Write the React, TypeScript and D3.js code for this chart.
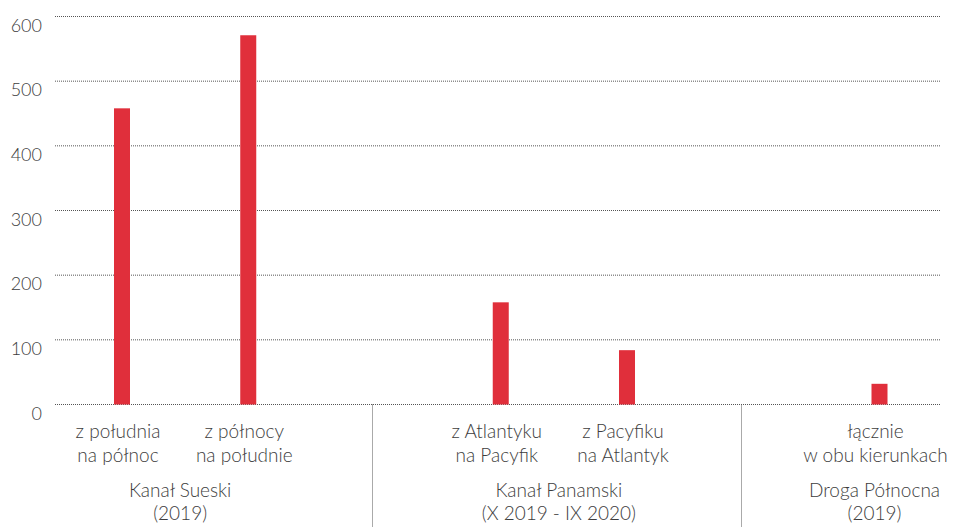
import React from "react";
import * as d3 from "d3";

const categoryLine1 = ["z południa", "z północy", "", "z Atlantyku", "z Pacyfiku", "", "łącznie"];
const categoryLine2 = ["na północ", "na południe", "", "na Pacyfik", "na Atlantyk", "", "w obu kierunkach"];
const values: (number | null)[] = [458, 571, null, 158, 84, null, 32];
const groupNames = ["Kanał Sueski", "Kanał Panamski", "Droga Północna"];
const groupPeriods = ["(2019)", "(X 2019 - IX 2020)", "(2019)"];
const groupMembers = [[0, 1], [3, 4], [6]];
const separatorSlots = [1.98, 4.9];
const yTicks = [0, 100, 200, 300, 400, 500, 600];

const W = 956;
const H = 527;
const FONT = "Lato, 'Open Sans', sans-serif";
const TEXT = "#3d3d3d";
const RED = "#e02f3b";

export default function App() {
  const x = d3.scaleLinear().domain([0, 6]).range([122, 879.5]);
  const y = d3.scaleLinear().domain([0, 600]).range([404.5, 16.5]);
  const barW = 16;
  const gridX0 = 55;
  const gridX1 = 940;

  return (
    <svg width={W} height={H} style={{ position: "absolute", left: 0, top: 0 }} fontFamily={FONT} fontWeight={300}>
      {yTicks.map((t) => (
        <g key={t}>
          <line x1={gridX0} x2={gridX1} y1={y(t)} y2={y(t)} stroke="#555" strokeWidth={1} strokeDasharray="1,1" />
          <text x={42} y={y(t) + 15} textAnchor="end" fontSize={18} fill={TEXT}>{t}</text>
        </g>
      ))}
      {separatorSlots.map((s, i) => (
        <line key={i} x1={Math.round(x(s)) + 0.5} x2={Math.round(x(s)) + 0.5} y1={y(0)} y2={H} stroke="#555" strokeWidth={1} strokeDasharray="1,1" />
      ))}
      {values.map((v, i) =>
        v == null ? null : (
          <rect key={i} x={x(i) - barW / 2} y={y(v)} width={barW} height={y(0) - y(v)} fill={RED} />
        )
      )}
      {categoryLine1.map((c, i) =>
        c ? (
          <text key={i} textAnchor="middle" fontSize={19} fill={TEXT}>
            <tspan x={x(i) - 4} y={438}>{c}</tspan>
            <tspan x={x(i) - 4} y={461.5}>{categoryLine2[i]}</tspan>
          </text>
        ) : null
      )}
      {groupNames.map((g, gi) => {
        const cx = d3.mean(groupMembers[gi].map((m) => x(m))) as number;
        return (
          <text key={gi} textAnchor="middle" fontSize={19} fill={TEXT}>
            <tspan x={cx - 5} y={497}>{g}</tspan>
            <tspan x={cx - 5} y={520}>{groupPeriods[gi]}</tspan>
          </text>
        );
      })}
    </svg>
  );
}
